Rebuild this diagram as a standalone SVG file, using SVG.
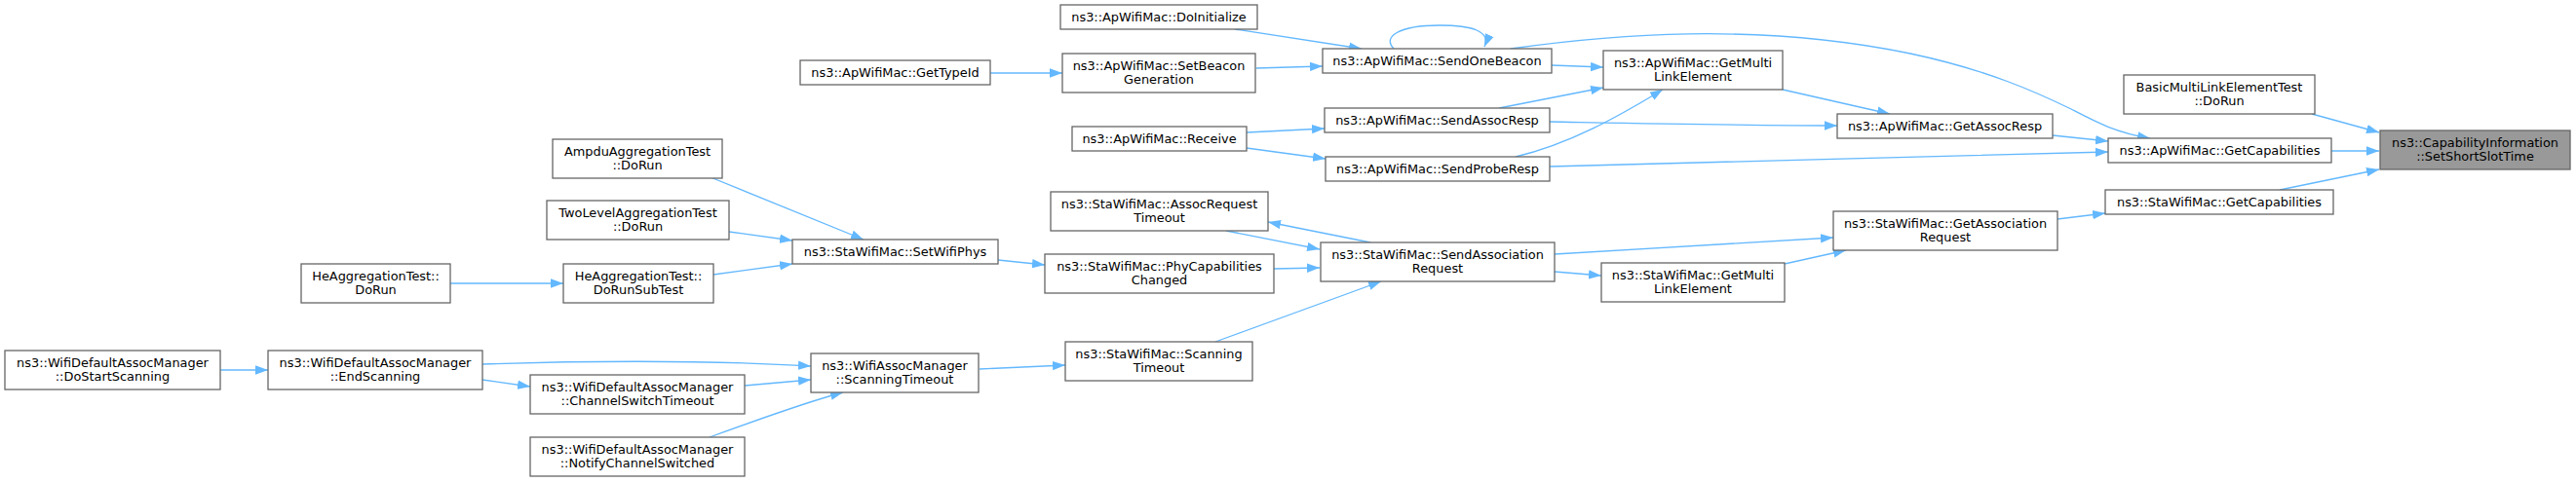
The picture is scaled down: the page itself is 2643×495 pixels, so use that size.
<svg xmlns="http://www.w3.org/2000/svg" width="2643" height="495" viewBox="0 0 2643 495">
<style>
.n rect{fill:#ffffff;stroke:#666666;stroke-width:1.3}
.n.h rect{fill:#999999}
.n text{font-family:"DejaVu Sans","Liberation Sans",sans-serif;font-size:12.9px;text-anchor:middle;fill:#000000}
.e path{fill:none;stroke:#63b8ff;stroke-width:1.3;marker-end:url(#a)}
</style>
<defs>
<marker id="a" markerUnits="userSpaceOnUse" markerWidth="14" markerHeight="10" refX="13" refY="5" orient="auto" viewBox="0 0 14 10">
<path d="M0,0.3 L13,5 L0,9.7 z" fill="#63b8ff" stroke="none"/>
</marker>
</defs>
<rect width="2643" height="495" fill="#ffffff"/>
<g id="edges" class="e">
<path d="M2372,117 L2441,136"/>
<path d="M2392,155 L2441,155"/>
<path d="M2339,195 L2441,174"/>
<path d="M2106,139 L2163,145"/>
<path d="M1590,171 C1750,167 2000,160 2163,156"/>
<path d="M1550,50 C1650,36 1800,22 1960,55 C2040,72 2090,95 2125,112 C2150,125 2170,136 2206,142"/>
<path d="M2111,225 L2160,219"/>
<path d="M1829,92 L1939,117"/>
<path d="M1590,125 C1700,127 1800,129 1885,129"/>
<path d="M1592,67 L1645,69"/>
<path d="M1538,111 L1645,90"/>
<path d="M1555,161 C1610,148 1660,120 1706,92"/>
<path d="M1430,50 C1418,38 1435,26 1477,26 C1510,26 1530,32 1523,48"/>
<path d="M1267,30 L1397,50"/>
<path d="M1289,70 L1357,68"/>
<path d="M1279,136 L1359,132"/>
<path d="M1279,152 L1360,163"/>
<path d="M1016,75 L1090,75"/>
<path d="M1595,261 L1881,244"/>
<path d="M1831,271 L1894,257"/>
<path d="M1595,279 L1643,283"/>
<path d="M1406,249 L1301,228"/>
<path d="M1258,237 L1354,256"/>
<path d="M1307,276 L1354,275"/>
<path d="M1247,351 L1417,289"/>
<path d="M1024,267 L1072,272"/>
<path d="M729,182 L886,246"/>
<path d="M748,238 L813,247"/>
<path d="M732,282 L813,271"/>
<path d="M462,291 L578,291"/>
<path d="M1005,379 L1093,375"/>
<path d="M495,374 C580,371 720,369 832,376"/>
<path d="M764,396 L832,390"/>
<path d="M728,449 C780,430 830,412 865,403"/>
<path d="M495,390 L544,397"/>
<path d="M226,380 L275,380"/>
</g>
<g id="n_setshortslottime" class="n h"><rect x="2442" y="134" width="195" height="40"/><text x="2539.5" y="151.3">ns3::CapabilityInformation</text><text x="2539.5" y="165.3">::SetShortSlotTime</text></g>
<g id="n_basicmle" class="n"><rect x="2179" y="77" width="196" height="40"/><text x="2277" y="94.3">BasicMultiLinkElementTest</text><text x="2277" y="108.3">::DoRun</text></g>
<g id="n_apgetcap" class="n"><rect x="2163" y="142" width="229" height="25"/><text x="2277.5" y="158.8">ns3::ApWifiMac::GetCapabilities</text></g>
<g id="n_stagetcap" class="n"><rect x="2160" y="195" width="234" height="25"/><text x="2277" y="211.8">ns3::StaWifiMac::GetCapabilities</text></g>
<g id="n_getassocresp" class="n"><rect x="1885" y="117" width="221" height="25"/><text x="1995.5" y="133.8">ns3::ApWifiMac::GetAssocResp</text></g>
<g id="n_getassocreq" class="n"><rect x="1881" y="217" width="230" height="40"/><text x="1996" y="234.3">ns3::StaWifiMac::GetAssociation</text><text x="1996" y="248.3">Request</text></g>
<g id="n_apgetmulti" class="n"><rect x="1645" y="52" width="184" height="40"/><text x="1737" y="69.3">ns3::ApWifiMac::GetMulti</text><text x="1737" y="83.3">LinkElement</text></g>
<g id="n_stagetmulti" class="n"><rect x="1643" y="270" width="188" height="40"/><text x="1737" y="287.3">ns3::StaWifiMac::GetMulti</text><text x="1737" y="301.3">LinkElement</text></g>
<g id="n_sendonebeacon" class="n"><rect x="1357" y="50" width="235" height="25"/><text x="1474.5" y="66.8">ns3::ApWifiMac::SendOneBeacon</text></g>
<g id="n_sendassocresp" class="n"><rect x="1359" y="111" width="231" height="25"/><text x="1474.5" y="127.8">ns3::ApWifiMac::SendAssocResp</text></g>
<g id="n_sendproberesp" class="n"><rect x="1360" y="161" width="230" height="25"/><text x="1475" y="177.8">ns3::ApWifiMac::SendProbeResp</text></g>
<g id="n_sendassocreq" class="n"><rect x="1355" y="249" width="240" height="40"/><text x="1475" y="266.3">ns3::StaWifiMac::SendAssociation</text><text x="1475" y="280.3">Request</text></g>
<g id="n_doinitialize" class="n"><rect x="1088" y="5" width="202" height="25"/><text x="1189" y="21.8">ns3::ApWifiMac::DoInitialize</text></g>
<g id="n_setbeacongen" class="n"><rect x="1090" y="55" width="198" height="40"/><text x="1189" y="72.3">ns3::ApWifiMac::SetBeacon</text><text x="1189" y="86.3">Generation</text></g>
<g id="n_receive" class="n"><rect x="1100" y="130" width="179" height="25"/><text x="1189.5" y="146.8">ns3::ApWifiMac::Receive</text></g>
<g id="n_assocreqtimeout" class="n"><rect x="1078" y="197" width="223" height="40"/><text x="1189.5" y="214.3">ns3::StaWifiMac::AssocRequest</text><text x="1189.5" y="228.3">Timeout</text></g>
<g id="n_phycap" class="n"><rect x="1072" y="261" width="235" height="40"/><text x="1189.5" y="278.3">ns3::StaWifiMac::PhyCapabilities</text><text x="1189.5" y="292.3">Changed</text></g>
<g id="n_stascantimeout" class="n"><rect x="1093" y="351" width="192" height="40"/><text x="1189" y="368.3">ns3::StaWifiMac::Scanning</text><text x="1189" y="382.3">Timeout</text></g>
<g id="n_gettypeid" class="n"><rect x="821" y="62" width="195" height="25"/><text x="918.5" y="78.8">ns3::ApWifiMac::GetTypeId</text></g>
<g id="n_setwifiphys" class="n"><rect x="813" y="246" width="211" height="25"/><text x="918.5" y="262.8">ns3::StaWifiMac::SetWifiPhys</text></g>
<g id="n_wamscantimeout" class="n"><rect x="832" y="363" width="172" height="40"/><text x="918" y="380.3">ns3::WifiAssocManager</text><text x="918" y="394.3">::ScanningTimeout</text></g>
<g id="n_ampdu" class="n"><rect x="567" y="143" width="174" height="40"/><text x="654" y="160.3">AmpduAggregationTest</text><text x="654" y="174.3">::DoRun</text></g>
<g id="n_twolevel" class="n"><rect x="561" y="206" width="187" height="40"/><text x="654.5" y="223.3">TwoLevelAggregationTest</text><text x="654.5" y="237.3">::DoRun</text></g>
<g id="n_dorunsubtest" class="n"><rect x="578" y="271" width="154" height="40"/><text x="655" y="288.3">HeAggregationTest::</text><text x="655" y="302.3">DoRunSubTest</text></g>
<g id="n_chswtimeout" class="n"><rect x="544" y="385" width="220" height="40"/><text x="654" y="402.3">ns3::WifiDefaultAssocManager</text><text x="654" y="416.3">::ChannelSwitchTimeout</text></g>
<g id="n_notifych" class="n"><rect x="544" y="449" width="220" height="40"/><text x="654" y="466.3">ns3::WifiDefaultAssocManager</text><text x="654" y="480.3">::NotifyChannelSwitched</text></g>
<g id="n_hedorun" class="n"><rect x="309" y="271" width="153" height="40"/><text x="385.5" y="288.3">HeAggregationTest::</text><text x="385.5" y="302.3">DoRun</text></g>
<g id="n_endscanning" class="n"><rect x="275" y="360" width="220" height="40"/><text x="385" y="377.3">ns3::WifiDefaultAssocManager</text><text x="385" y="391.3">::EndScanning</text></g>
<g id="n_dostartscanning" class="n"><rect x="5" y="360" width="221" height="40"/><text x="115.5" y="377.3">ns3::WifiDefaultAssocManager</text><text x="115.5" y="391.3">::DoStartScanning</text></g>
</svg>
